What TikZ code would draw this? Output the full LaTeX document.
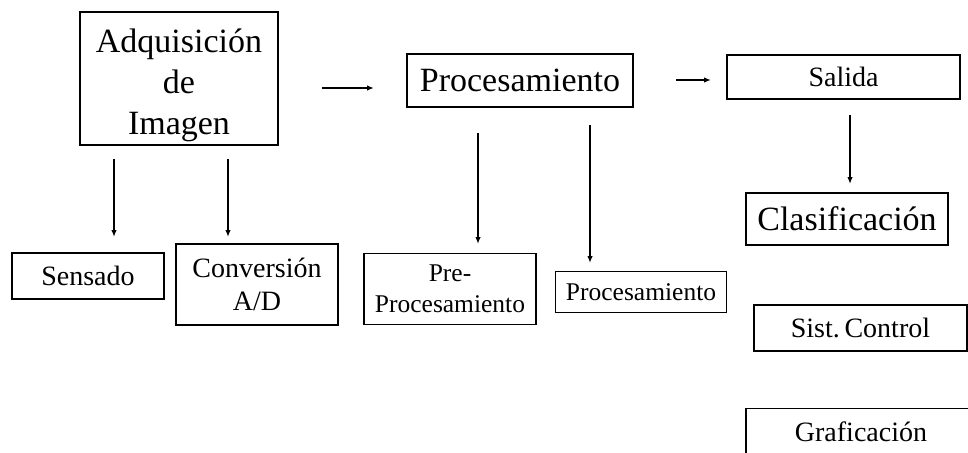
\documentclass[tikz,border=0pt]{standalone}
\usepackage{fontspec}
\setmainfont{Liberation Serif}
\usetikzlibrary{arrows.meta}
\tikzset{
  box/.style={draw=black, line width=1.9pt, inner sep=0pt, align=center, anchor=center},
  big/.style={font=\fontsize{34}{41}\selectfont},
  mid/.style={font=\fontsize{28}{33}\selectfont},
  small/.style={font=\fontsize{25.5}{31}\selectfont},
  arr/.style={line width=1.4pt, -{Latex[length=7pt,width=5.5pt]}}
}
\begin{document}
\begin{tikzpicture}[x=1pt,y=-1pt]
\useasboundingbox[fill=white] (0,0) rectangle (968,452);
% top row
\node[box,minimum width=198pt,minimum height=133pt,
      label={[big,align=center,yshift=-7pt]center:Adquisición\\de\\Imagen}] (adq) at (179,78.5) {};
\node[box,big,minimum width=226pt,minimum height=53pt] (proc) at (520,80.5) {Procesamiento};
\node[box,mid,minimum width=233pt,minimum height=44pt] (sal) at (843.5,77) {Salida};
% second level
\node[box,mid,minimum width=152pt,minimum height=46pt] (sens) at (88,276) {Sensado};
\node[box,mid,minimum width=162pt,minimum height=81pt] (conv) at (257,284.5) {Conversión\\A/D};
\node[box,small,minimum width=172pt,minimum height=71pt] (pre) at (450,289) {Pre-\\Procesamiento};
\node[box,small,minimum width=171pt,minimum height=41pt] (procs) at (641,292) {Procesamiento};
\node[box,big,minimum width=202pt,minimum height=52pt] (clas) at (847,219) {Clasificación};
\node[box,mid,minimum width=213pt,minimum height=46pt] (sist) at (860.5,328) {Sist.\,Control};
\node[box,mid,minimum width=230pt,minimum height=47pt,text depth=0pt] (graf) at (861,432) {Graficación};
% arrow end points
\coordinate (h1a) at (322,88);  \coordinate (h1b) at (374,88);
\coordinate (h2a) at (676,80);  \coordinate (h2b) at (711,80);
\coordinate (d1a) at (114,159); \coordinate (d1b) at (114,237);
\coordinate (d2a) at (228,159); \coordinate (d2b) at (228,237);
\coordinate (d3a) at (478,133); \coordinate (d3b) at (478,244);
\coordinate (d4a) at (590,125); \coordinate (d4b) at (590,263);
\coordinate (d5a) at (850,115); \coordinate (d5b) at (850,184);
\draw[arr] (h1a) -- (h1b);
\draw[arr] (h2a) -- (h2b);
\draw[arr] (d1a) -- (d1b);
\draw[arr] (d2a) -- (d2b);
\draw[arr] (d3a) -- (d3b);
\draw[arr] (d4a) -- (d4b);
\draw[arr] (d5a) -- (d5b);
\end{tikzpicture}
\end{document}
